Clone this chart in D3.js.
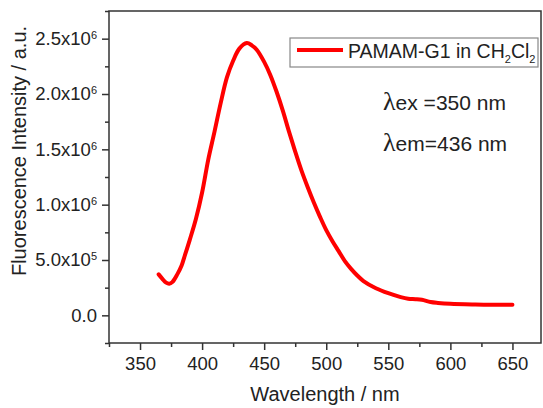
<!DOCTYPE html>
<html>
<head>
<meta charset="utf-8">
<script src="https://cdn.jsdelivr.net/npm/d3@7"></script>
<style>
  html, body { margin: 0; padding: 0; background: #fff; }
  svg { display: block; }
</style>
</head>
<body>
<svg id="chart"></svg>
<script>
// emission spectrum (wavelength in nm, intensity in a.u.)
const wavelength = [365, 368, 371, 373.5, 376, 380, 383.5, 385.5, 390, 395, 400, 405, 410, 415, 420, 425, 430, 436,
  440, 444, 450, 455, 460, 465, 470, 475, 480, 485, 490, 495, 500, 505, 510, 515, 520, 525, 530, 540, 550, 560,
  566, 572, 577, 584, 590, 600, 620, 640, 650];
const intensity = [0.37e6, 0.33e6, 0.295e6, 0.285e6, 0.30e6, 0.37e6, 0.45e6, 0.52e6, 0.68e6, 0.87e6, 1.11e6, 1.41e6,
  1.66e6, 1.92e6, 2.15e6, 2.30e6, 2.41e6, 2.46e6, 2.44e6, 2.40e6, 2.29e6, 2.17e6, 2.02e6, 1.85e6, 1.66e6, 1.48e6,
  1.31e6, 1.16e6, 1.02e6, 0.89e6, 0.77e6, 0.67e6, 0.58e6, 0.49e6, 0.42e6, 0.36e6, 0.31e6, 0.245e6, 0.20e6, 0.165e6,
  0.15e6, 0.146e6, 0.14e6, 0.12e6, 0.112e6, 0.104e6, 0.098e6, 0.095e6, 0.095e6];

const xTicks = [350, 400, 450, 500, 550, 600, 650];
const xMinorTicks = [325, 375, 425, 475, 525, 575, 625];
const yTicks = [0, 0.5e6, 1.0e6, 1.5e6, 2.0e6, 2.5e6];
const yMinorTicks = [-0.25e6, 0.25e6, 0.75e6, 1.25e6, 1.75e6, 2.25e6, 2.75e6];
const yTickMantissa = ["0.0", "5.0x10", "1.0x10", "1.5x10", "2.0x10", "2.5x10"];
const yTickExponent = ["", "5", "6", "6", "6", "6"];

const seriesName = "PAMAM-G1 in CH";
const noteLines = ["ex =350 nm", "em=436 nm"];

const font = "'Liberation Sans', Arial, sans-serif";
const W = 543, H = 408;
const margin = { top: 11, right: 2, bottom: 65, left: 109 };
const width = W - margin.left - margin.right;
const height = H - margin.top - margin.bottom;

const svg = d3.select('#chart')
  .attr('width', W)
  .attr('height', H)
  .style('font-family', font);

const g = svg.append('g')
  .attr('transform', `translate(${margin.left},${margin.top})`);

const x = d3.scaleLinear().domain([325, 673]).range([0, width]);
const y = d3.scaleLinear().domain([-0.25e6, 2.75e6]).range([height, 0]);

// minor ticks
g.append('g')
  .attr('transform', `translate(0,${height})`)
  .call(d3.axisBottom(x).tickValues(xMinorTicks).tickSize(4).tickSizeOuter(0).tickFormat(''))
  .call(a => a.select('.domain').remove())
  .selectAll('line').attr('stroke', '#333').attr('stroke-width', 1.5);

g.append('g')
  .call(d3.axisLeft(y).tickValues(yMinorTicks).tickSize(4).tickSizeOuter(0).tickFormat(''))
  .call(a => a.select('.domain').remove())
  .selectAll('line').attr('stroke', '#333').attr('stroke-width', 1.5);

// major ticks
const xAxis = g.append('g')
  .attr('transform', `translate(0,${height})`)
  .call(d3.axisBottom(x).tickValues(xTicks).tickSize(7).tickSizeOuter(0).tickPadding(7))
  .call(a => a.select('.domain').remove());
xAxis.selectAll('line').attr('stroke', '#333').attr('stroke-width', 1.5);
xAxis.selectAll('text')
  .attr('fill', '#222')
  .style('font-family', font)
  .style('font-size', '18.5px');

const yAxis = g.append('g')
  .call(d3.axisLeft(y).tickValues(yTicks).tickSize(7).tickSizeOuter(0).tickPadding(5))
  .call(a => a.select('.domain').remove());
yAxis.selectAll('line').attr('stroke', '#333').attr('stroke-width', 1.5);
yAxis.selectAll('text')
  .attr('fill', '#222')
  .style('font-family', font)
  .style('font-size', '18.5px')
  .each(function (d, i) {
    const t = d3.select(this).text(null);
    t.append('tspan').text(yTickMantissa[i]);
    if (yTickExponent[i]) {
      t.append('tspan')
        .attr('dy', '-0.55em')
        .style('font-size', '11px')
        .text(yTickExponent[i]);
    }
  });

// frame
g.append('rect')
  .attr('width', width)
  .attr('height', height)
  .attr('fill', 'none')
  .attr('stroke', '#333')
  .attr('stroke-width', 1.5);

// spectrum
const data = wavelength.map((w, i) => ({ w, v: intensity[i] }));
const line = d3.line()
  .x(d => x(d.w))
  .y(d => y(d.v))
  .curve(d3.curveCatmullRom.alpha(0.5));

g.append('path')
  .datum(data)
  .attr('fill', 'none')
  .attr('stroke', '#ff0000')
  .attr('stroke-width', 4)
  .attr('stroke-linejoin', 'round')
  .attr('stroke-linecap', 'round')
  .attr('d', line);

// legend
const legend = svg.append('g').attr('transform', 'translate(290,38)');
legend.append('rect')
  .attr('width', 248)
  .attr('height', 29)
  .attr('fill', '#fff')
  .attr('stroke', '#888')
  .attr('stroke-width', 1.2);
legend.append('line')
  .attr('x1', 7).attr('x2', 53)
  .attr('y1', 12).attr('y2', 12)
  .attr('stroke', '#ff0000')
  .attr('stroke-width', 4);
const lt = legend.append('text')
  .attr('x', 58)
  .attr('y', 20)
  .attr('fill', '#222')
  .style('font-size', '19.5px');
lt.append('tspan').text(seriesName);
lt.append('tspan').attr('dy', 5).style('font-size', '11px').text('2');
lt.append('tspan').attr('dy', -5).text('Cl');
lt.append('tspan').attr('dy', 5).style('font-size', '11px').text('2');

// excitation / emission notes
noteLines.forEach((s, i) => {
  const t = svg.append('text')
    .attr('x', 383)
    .attr('y', 110 + i * 41)
    .attr('fill', '#222')
    .style('font-size', '21px');
  t.append('tspan')
    .style('font-family', "'Liberation Serif', 'Times New Roman', serif")
    .style('font-size', '26px')
    .text('\u03bb');
  t.append('tspan').text(s);
});

// axis titles
svg.append('text')
  .attr('x', margin.left + width / 2)
  .attr('y', 401)
  .attr('text-anchor', 'middle')
  .attr('fill', '#222')
  .style('font-size', '20px')
  .text('Wavelength / nm');

svg.append('text')
  .attr('transform', `translate(26,${margin.top + 140}) rotate(-90)`)
  .attr('text-anchor', 'middle')
  .attr('fill', '#222')
  .style('font-size', '20px')
  .text('Fluorescence Intensity / a.u.');
</script>
</body>
</html>
